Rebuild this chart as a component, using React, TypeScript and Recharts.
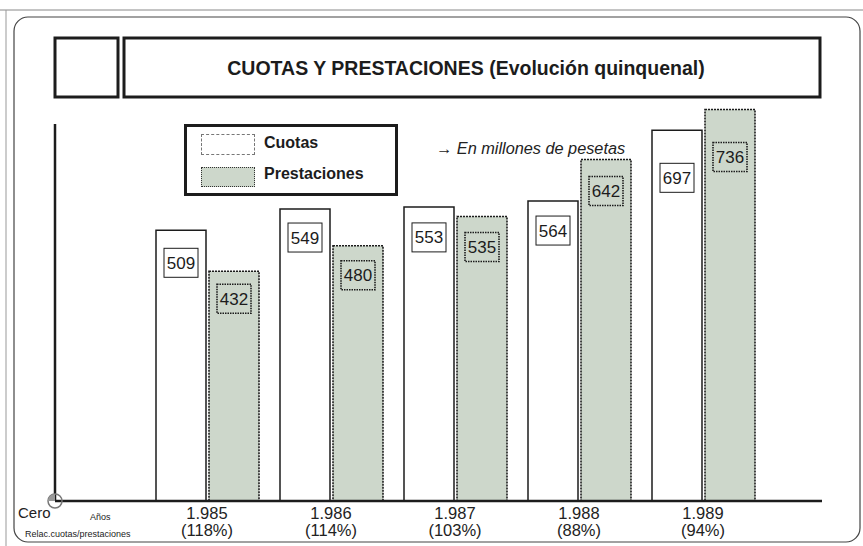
import { BarChart, Bar, XAxis, YAxis, LabelList } from "recharts";

const YEARS = ["1.985", "1.986", "1.987", "1.988", "1.989"];
const RATIOS = ["(118%)", "(114%)", "(103%)", "(88%)", "(94%)"];
const CUOTAS = [509, 549, 553, 564, 697];
const PRESTACIONES = [432, 480, 535, 642, 736];

// how far below the bar top each value box sits
const CUOTAS_DROP = [18, 14, 16, 15, 33];
const PREST_DROP = [13, 15, 16, 17, 33];

const FONT = '"Liberation Sans", Arial, Helvetica, sans-serif';
const INK = "#1c1c1c";
const SAGE = "#cdd7cb";

const data = YEARS.map((year, i) => ({
  year,
  ratio: RATIOS[i],
  cuotas: CUOTAS[i],
  prestaciones: PRESTACIONES[i],
}));

const makeLabel = (drops: number[], shaded: boolean) => (props: any) => {
  const { x, y, width, value, index } = props;
  const cx = Number(x) + Number(width) / 2;
  const top = Number(y) + drops[index];
  return (
    <g>
      <rect
        x={cx - 17}
        y={top}
        width={34}
        height={29}
        fill={shaded ? SAGE : "#fff"}
        stroke={INK}
        strokeWidth={shaded ? 1.6 : 1}
        strokeDasharray={shaded ? "1.5 1" : undefined}
      />
      <text
        x={cx}
        y={top + 15}
        textAnchor="middle"
        dominantBaseline="central"
        fontFamily={FONT}
        fontSize={17}
        fill={INK}
      >
        {value}
      </text>
    </g>
  );
};

const YearTick = (props: any) => {
  const { x, y, payload, index } = props;
  return (
    <g fontFamily={FONT} fontSize={16.5} fill="#222">
      <text x={x} y={y + 10} textAnchor="middle">
        {payload.value}
      </text>
      <text x={x} y={y + 27} textAnchor="middle">
        {RATIOS[index]}
      </text>
    </g>
  );
};

const LegendBox = () => (
  <div
    style={{
      position: "absolute",
      left: 184,
      top: 124,
      width: 208,
      height: 66,
      border: `3px solid ${INK}`,
      background: "#fff",
      fontFamily: FONT,
      fontWeight: 700,
      fontSize: 16,
      color: INK,
    }}
  >
    <div
      style={{
        position: "absolute",
        left: 14,
        top: 7,
        width: 52,
        height: 19,
        border: "1px dashed #777",
        background: "#fff",
      }}
    />
    <div style={{ position: "absolute", left: 77, top: 6, lineHeight: "20px" }}>Cuotas</div>
    <div
      style={{
        position: "absolute",
        left: 14,
        top: 40,
        width: 52,
        height: 18,
        border: "1px dotted #333",
        background: SAGE,
      }}
    />
    <div style={{ position: "absolute", left: 77, top: 37, lineHeight: "20px" }}>Prestaciones</div>
  </div>
);

export default function App() {
  return (
    <div style={{ position: "absolute", left: 0, top: 0, width: 863, height: 546, background: "#fff" }}>
      <BarChart
        width={863}
        height={546}
        data={data}
        margin={{ top: 100, right: 41, bottom: 0, left: 55 }}
        barGap={3}
        barSize={50}
      >
        <XAxis
          dataKey="year"
          height={45}
          padding={{ left: 90, right: 57 }}
          axisLine={{ stroke: INK, strokeWidth: 2.5 }}
          tickLine={false}
          tick={<YearTick />}
          interval={0}
        />
        <YAxis hide type="number" domain={[0, 754]} allowDataOverflow />
        <Bar dataKey="cuotas" name="Cuotas" fill="#fff" stroke={INK} strokeWidth={1.5} isAnimationActive={false}>
          <LabelList dataKey="cuotas" content={makeLabel(CUOTAS_DROP, false)} />
        </Bar>
        <Bar
          dataKey="prestaciones"
          name="Prestaciones"
          fill={SAGE}
          stroke={INK}
          strokeWidth={1.6}
          strokeDasharray="2 1"
          isAnimationActive={false}
        >
          <LabelList dataKey="prestaciones" content={makeLabel(PREST_DROP, true)} />
        </Bar>
      </BarChart>

      <LegendBox />

      <svg
        width={863}
        height={546}
        style={{ position: "absolute", left: 0, top: 0, pointerEvents: "none" }}
      >
        <line x1={0} y1={10} x2={863} y2={10} stroke="#888" strokeWidth={1} />
        <line x1={6} y1={10} x2={6} y2={546} stroke="#999" strokeWidth={1} />
        <rect x={14} y={17} width={846} height={525} rx={14} fill="none" stroke="#444" strokeWidth={1.2} />

        <rect x={55} y={38} width={63} height={59} fill="none" stroke={INK} strokeWidth={3} />
        <rect x={124} y={38} width={696} height={59} fill="none" stroke={INK} strokeWidth={3} />
        <text
          x={466}
          y={68}
          textAnchor="middle"
          dominantBaseline="central"
          fontFamily={FONT}
          fontWeight={700}
          fontSize={19.5}
          fill={INK}
        >
          CUOTAS Y PRESTACIONES (Evolución quinquenal)
        </text>

        <text x={436} y={148} dominantBaseline="central" fontFamily={FONT} fontStyle="italic" fontSize={16.3} fill="#222">
          → En millones de pesetas
        </text>

        <line x1={55} y1={124} x2={55} y2={501} stroke={INK} strokeWidth={2.5} />
        <circle cx={55} cy={501} r={7} fill="none" stroke="#777" strokeWidth={1.5} />
        <path d="M55 501 L55 494 A7 7 0 0 0 48 501 Z" fill="#999" />

        <text x={18} y={518} fontFamily={FONT} fontSize={15} fill="#222">Cero</text>
        <text x={90} y={520} fontFamily={FONT} fontSize={9} fill="#222">Años</text>
        <text x={25} y={537} fontFamily={FONT} fontSize={9} fill="#222">Relac.cuotas/prestaciones</text>
      </svg>
    </div>
  );
}
